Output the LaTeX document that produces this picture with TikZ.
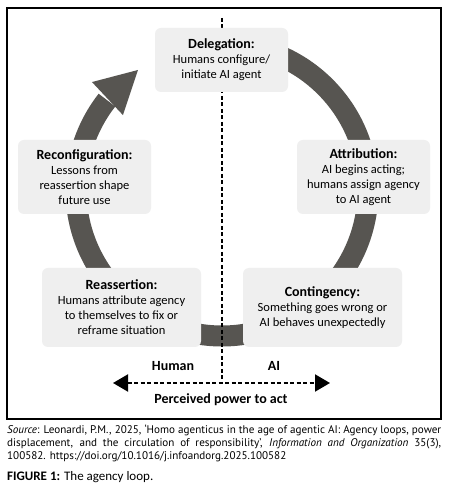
\documentclass[tikz,border=0pt]{standalone}
\usepackage{fontspec}
\setmainfont{Carlito}
\newfontfamily\capfont{PT Sans}
\usetikzlibrary{arrows.meta}
\definecolor{bandgray}{HTML}{575551}
\definecolor{boxgray}{HTML}{EFEFEF}
\newcommand{\ttlf}{\fontsize{14}{16}\selectfont\bfseries}
\newcommand{\bodyf}{\fontsize{12.5}{15}\selectfont}
\tikzset{
  stagebox/.style={fill=boxgray, rounded corners=6pt, align=center, inner sep=0pt, font=\bodyf},
  band/.style={draw=bandgray, line width=21pt},
  divider/.style={dash pattern=on 4pt off 2.5pt, line width=2pt},
  axislabel/.style={font=\fontsize{14}{16}\selectfont\bfseries, inner sep=0pt}
}
\begin{document}
\begin{tikzpicture}[x=1pt,y=1pt]
\useasboundingbox (0,0) rectangle (456,490);
\fill[white] (0,0) rectangle (456,490);
% frame
\draw[line width=1.3pt] (7,71) rectangle (441,482);
% ring
\coordinate (c) at (222,300);
\draw[band] ([shift={(90:146)}]c) arc[start angle=90, end angle=-218, radius=146];
\fill[bandgray] ([shift={(125:146.5)}]c) -- ([shift={(140.3:169)}]c) -- ([shift={(142.9:124.2)}]c) -- cycle;
% divider and axis
\coordinate (vtop) at (222,472);
\coordinate (axl) at (113,107);
\coordinate (axr) at (330,107);
\coordinate (vbot) at (222,107);
\draw[divider] (vtop) -- (vbot);
\draw[divider, {Triangle[length=15pt,width=17pt]}-{Triangle[length=15pt,width=17pt]}] (axl) -- (axr);
% boxes
\node[stagebox, minimum width=133pt, minimum height=64pt] (del) at (221.5,430)
  {{\ttlf Delegation:}\\Humans configure/\\initiate AI agent};
\node[stagebox, minimum width=133pt, minimum height=74pt] (rec) at (84.5,313)
  {{\ttlf Reconfiguration:}\\Lessons from\\reassertion shape\\future use};
\node[stagebox, minimum width=133pt, minimum height=74pt] (att) at (363.5,313)
  {{\ttlf Attribution:}\\AI begins acting;\\humans assign agency\\to AI agent};
\node[stagebox, minimum width=159pt, minimum height=79pt] (rea) at (121.5,182.5)
  {{\ttlf Reassertion:}\\Humans attribute agency\\to themselves to fix or\\reframe situation};
\node[stagebox, minimum width=159pt, minimum height=79pt] (con) at (322.5,182.5)
  {{\ttlf Contingency:}\\Something goes wrong or\\AI behaves unexpectedly};
% labels
\node[axislabel] (hum) at (173,124) {Human};
\node[axislabel] (ai) at (274,124) {AI};
\node[axislabel] (ppa) at (221,90) {Perceived power to act};
% caption
\node[anchor=north west, inner sep=0pt, text width=434pt, align=justify,
      font=\capfont\fontsize{11.1}{13}\selectfont] (src) at (7,65.5)
  {\textit{Source}: Leonardi, P.M., 2025, ‘Homo agenticus in the age of agentic AI: Agency loops, power\linebreak
   displacement, and the circulation of responsibility’, \textit{Information and Organization} 35(3),\linebreak
   100582. https://doi.org/10.1016/j.infoandorg.2025.100582};
\node[anchor=west, inner sep=0pt, font=\fontsize{13}{15}\selectfont] (fig) at (7,13)
  {\textbf{FIGURE 1:} The agency loop.};
\end{tikzpicture}
\end{document}
